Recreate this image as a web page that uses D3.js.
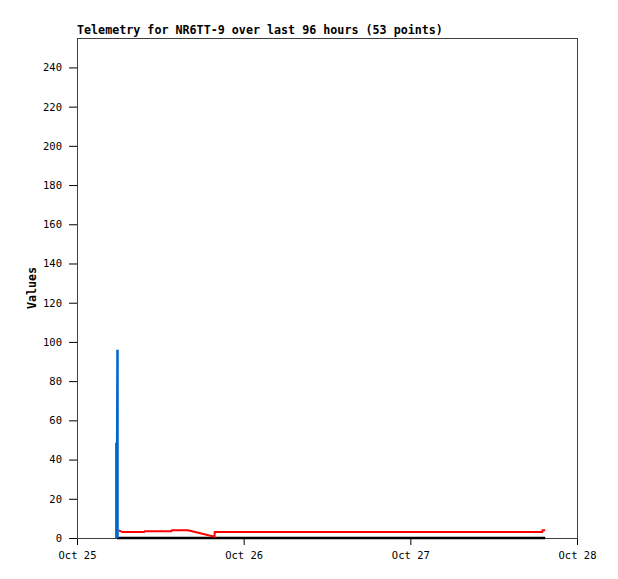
<!DOCTYPE html>
<html>
<head>
<meta charset="utf-8">
<script src="https://cdn.jsdelivr.net/npm/d3@7"></script>
<style>
  body { margin: 0; background: #fff; }
  text { font-family: "DejaVu Sans Mono", monospace; }
</style>
</head>
<body>
<svg id="chart"></svg>
<script>
// Telemetry chart, values

var titleText = "Telemetry for NR6TT-9 over last 96 hours (53 points)";
var yTicks = [0, 20, 40, 60, 80, 100, 120, 140, 160, 180, 200, 220, 240];
var xTicks = ["2023-10-25 00:00", "2023-10-26 00:00", "2023-10-27 00:00", "2023-10-28 00:00"];
var xTickLabels = ["Oct 25", "Oct 26", "Oct 27", "Oct 28"];

// blue series (spike)
var blueTimes = ["2023-10-25 05:40", "2023-10-25 05:40", "2023-10-25 05:47", "2023-10-25 05:50", "2023-10-25 05:50"];
var blueValues = [0, 48, 48, 96, 0];

// red series
var redTimes = ["2023-10-25 06:00", "2023-10-25 06:35", "2023-10-25 09:40", "2023-10-25 09:45",
                "2023-10-25 13:35", "2023-10-25 13:40", "2023-10-25 16:00", "2023-10-25 19:48",
                "2023-10-25 19:50", "2023-10-27 19:00", "2023-10-27 19:02", "2023-10-27 19:25"];
var redValues = [3.8, 3.0, 3.0, 3.4, 3.4, 3.9, 3.9, 0.6, 3.0, 3.0, 4.0, 4.0];

// black series (zero line)
var blackTimes = ["2023-10-25 05:45", "2023-10-27 19:25"];
var blackValues = [0, 0];

var parse = d3.utcParse("%Y-%m-%d %H:%M");

var margin = { top: 38, right: 41, bottom: 41, left: 77 };
var width = 500;
var height = 500;

var svg = d3.select("#chart")
    .attr("width", 618)
    .attr("height", 579);

var g = svg.append("g")
    .attr("transform", "translate(" + margin.left + "," + margin.top + ")");

var xScale = d3.scaleUtc()
    .domain([parse(xTicks[0]), parse(xTicks[xTicks.length - 1])])
    .range([0, width]);

var yScale = d3.scaleLinear()
    .domain([0, 255])
    .range([height, 0]);

// x axis
var xAxis = g.append("g")
    .attr("transform", "translate(0," + height + ")")
    .call(d3.axisBottom(xScale)
        .tickValues(xTicks.map(parse))
        .tickFormat(function(d, i) { return xTickLabels[i]; })
        .tickSize(7)
        .tickPadding(7));
xAxis.select(".domain").remove();
xAxis.selectAll("text").style("font-size", "10.5px").attr("fill", "#000");
xAxis.selectAll("line").attr("stroke", "#000");

// y axis
var yAxis = g.append("g")
    .call(d3.axisLeft(yScale)
        .tickValues(yTicks)
        .tickFormat(d3.format("d"))
        .tickSize(8)
        .tickPadding(7));
yAxis.select(".domain").remove();
yAxis.selectAll("text").style("font-size", "10.5px").attr("fill", "#000");
yAxis.selectAll("line").attr("stroke", "#000");

// border
g.append("rect")
    .attr("x", 0.5)
    .attr("y", 0.5)
    .attr("width", width)
    .attr("height", height)
    .attr("fill", "none")
    .attr("stroke", "#404040")
    .attr("stroke-width", 1);

// title
svg.append("text")
    .attr("x", margin.left)
    .attr("y", 34)
    .style("font-size", "11.7px")
    .style("font-weight", "bold")
    .text(titleText);

// y label
svg.append("text")
    .attr("transform", "translate(36," + (margin.top + height / 2) + ") rotate(-90)")
    .style("text-anchor", "middle")
    .style("font-size", "11.7px")
    .style("font-weight", "bold")
    .text("Values");

var line = d3.line()
    .x(function(d) { return xScale(d.t); })
    .y(function(d) { return yScale(d.v); });

function series(times, values) {
    return times.map(function(t, i) { return { t: parse(t), v: values[i] }; });
}

g.append("path")
    .datum(series(blackTimes, blackValues))
    .attr("d", line)
    .attr("fill", "none")
    .attr("stroke", "#000")
    .attr("stroke-width", 2.5);

g.append("path")
    .datum(series(redTimes, redValues))
    .attr("d", line)
    .attr("fill", "none")
    .attr("stroke", "#ff0000")
    .attr("stroke-width", 2);

g.append("path")
    .datum(series(blueTimes, blueValues))
    .attr("d", line)
    .attr("fill", "none")
    .attr("stroke", "#0066cc")
    .attr("stroke-width", 2.5)
    .attr("stroke-linejoin", "miter");
</script>
</body>
</html>
